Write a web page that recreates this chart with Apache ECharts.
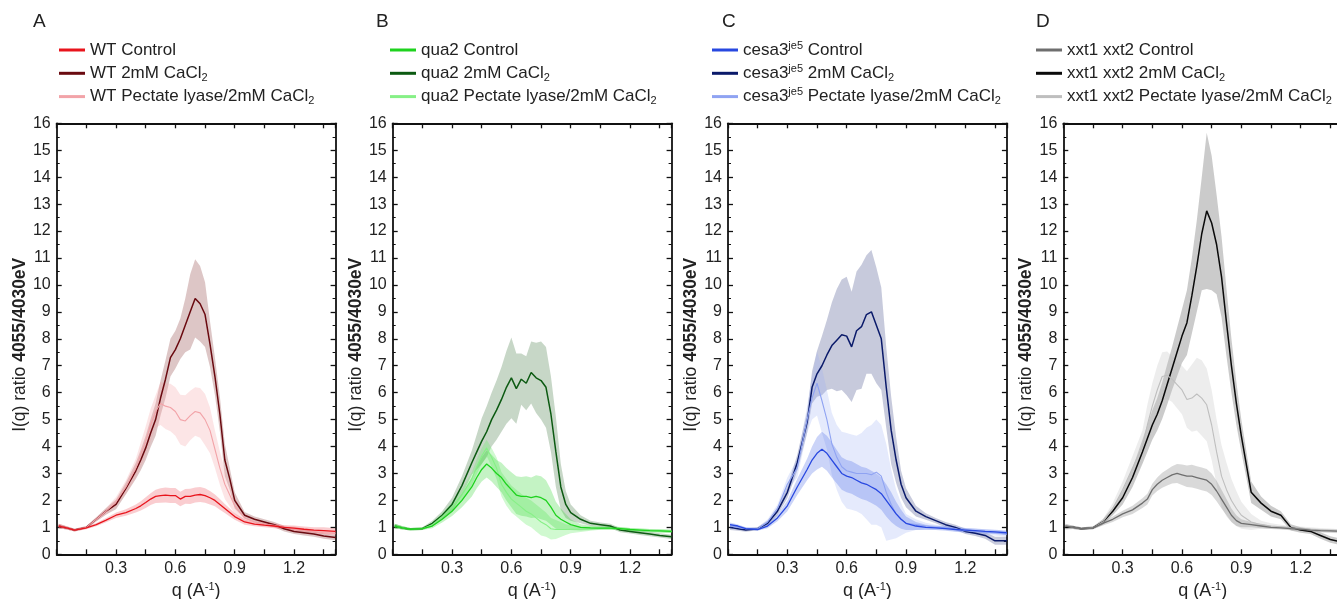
<!DOCTYPE html>
<html><head><meta charset="utf-8">
<script src="https://cdn.jsdelivr.net/npm/echarts@6/dist/echarts.min.js"></script>
<style>html,body{margin:0;padding:0;background:#fff;overflow:hidden}#c{width:1337px;height:599px}</style>
</head><body><div id="c"></div>
<script>
// q grid (A^-1)
const Q = [0.01,0.05,0.09,0.15,0.2,0.25,0.3,0.35,0.4,0.425,0.45,0.475,0.5,0.525,0.55,0.575,0.6,0.625,0.65,0.675,0.7,0.725,0.75,0.775,0.8,0.825,0.85,0.875,0.9,0.95,1.0,1.05,1.1,1.15,1.2,1.25,1.3,1.35,1.41];

// Panel A : WT
const wtControl    = [1.05,0.98,0.9,0.98,1.1,1.27,1.45,1.55,1.7,1.8,1.92,2.05,2.15,2.18,2.2,2.18,2.18,2.05,2.15,2.15,2.2,2.22,2.18,2.1,2.0,1.85,1.7,1.55,1.4,1.2,1.12,1.08,1.05,1.0,0.97,0.93,0.9,0.88,0.85];
const wtControlErr = [0.08,0.06,0.05,0.05,0.06,0.08,0.1,0.12,0.15,0.17,0.2,0.22,0.25,0.27,0.28,0.28,0.28,0.27,0.27,0.28,0.28,0.28,0.27,0.25,0.22,0.2,0.17,0.15,0.12,0.1,0.08,0.08,0.08,0.08,0.1,0.1,0.1,0.12,0.12];
const wtCa         = [1.05,0.98,0.9,1.0,1.3,1.6,1.85,2.45,3.1,3.5,3.95,4.5,5.0,5.8,6.5,7.3,7.6,8.0,8.5,9.0,9.5,9.3,8.9,7.8,6.6,5.2,3.5,2.8,2.0,1.45,1.3,1.2,1.1,0.95,0.85,0.8,0.75,0.68,0.62];
const wtCaErr      = [0.08,0.06,0.05,0.05,0.08,0.12,0.18,0.22,0.3,0.38,0.45,0.52,0.6,0.65,0.7,0.7,0.7,0.75,1.0,1.4,1.45,1.4,1.2,0.85,0.7,0.65,0.6,0.4,0.3,0.12,0.1,0.1,0.1,0.1,0.1,0.1,0.1,0.1,0.1];
const wtPl         = [1.05,0.98,0.9,1.0,1.3,1.6,1.95,2.5,3.2,3.7,4.2,4.8,5.3,5.6,5.5,5.45,5.3,5.0,4.95,5.15,5.3,5.25,5.0,4.6,3.9,3.2,2.6,2.2,1.8,1.35,1.2,1.12,1.08,1.0,0.95,0.9,0.85,0.8,0.78];
const wtPlErr      = [0.08,0.06,0.05,0.05,0.08,0.12,0.18,0.25,0.35,0.45,0.55,0.6,0.6,0.8,0.85,0.88,0.9,0.92,0.95,0.92,0.9,0.92,0.95,0.85,0.7,0.62,0.55,0.42,0.3,0.15,0.1,0.08,0.08,0.08,0.08,0.08,0.08,0.08,0.08];

// Panel B : qua2
const quaControl    = [1.05,0.98,0.93,0.95,1.05,1.3,1.6,2.0,2.5,2.85,3.15,3.35,3.2,3.0,2.85,2.6,2.4,2.2,2.15,2.15,2.1,2.15,2.1,2.0,1.75,1.45,1.3,1.2,1.1,1.0,0.98,0.97,0.97,0.95,0.92,0.9,0.88,0.87,0.85];
const quaControlErr = [0.08,0.06,0.05,0.05,0.08,0.12,0.18,0.25,0.35,0.4,0.45,0.5,0.5,0.5,0.55,0.6,0.65,0.7,0.72,0.75,0.75,0.78,0.8,0.75,0.65,0.5,0.4,0.3,0.2,0.12,0.08,0.06,0.06,0.06,0.06,0.06,0.06,0.06,0.06];
const quaCa         = [1.05,0.98,0.93,0.95,1.15,1.45,1.85,2.55,3.4,3.8,4.2,4.55,5.0,5.35,5.75,6.2,6.55,6.15,6.5,6.35,6.75,6.55,6.45,6.2,5.2,3.8,2.5,1.85,1.55,1.3,1.15,1.1,1.05,0.9,0.85,0.8,0.75,0.7,0.65];
const quaCaErr      = [0.08,0.06,0.05,0.05,0.1,0.15,0.25,0.35,0.45,0.65,0.85,0.95,1.0,1.1,1.2,1.35,1.5,1.3,0.95,1.0,1.15,1.3,1.45,1.5,1.4,1.3,0.85,0.5,0.3,0.15,0.1,0.08,0.08,0.08,0.08,0.08,0.08,0.08,0.08];
const quaPl         = [1.05,0.98,0.93,0.95,1.1,1.4,1.75,2.2,2.8,3.25,3.65,3.95,3.6,3.2,2.6,2.3,2.05,1.9,1.75,1.6,1.5,1.35,1.2,1.1,0.95,0.92,0.92,0.92,0.93,0.93,0.95,0.97,0.97,0.95,0.92,0.9,0.88,0.87,0.85];
const quaPlErr      = [0.08,0.06,0.05,0.05,0.08,0.12,0.18,0.22,0.25,0.28,0.3,0.3,0.35,0.4,0.45,0.5,0.5,0.5,0.5,0.5,0.5,0.5,0.5,0.45,0.4,0.35,0.28,0.2,0.15,0.1,0.08,0.06,0.06,0.06,0.06,0.06,0.06,0.06,0.06];

// Panel C : cesa3je5
const cesControl    = [1.1,1.05,0.95,0.92,1.05,1.35,1.8,2.5,3.15,3.5,3.75,3.9,3.75,3.5,3.25,3.0,2.9,2.85,2.75,2.65,2.6,2.5,2.4,2.25,2.0,1.75,1.5,1.3,1.15,1.05,1.0,0.98,0.95,0.92,0.9,0.88,0.85,0.83,0.8];
const cesControlErr = [0.08,0.06,0.05,0.05,0.08,0.12,0.2,0.3,0.4,0.5,0.6,0.65,0.65,0.65,0.62,0.6,0.6,0.6,0.6,0.6,0.6,0.6,0.6,0.6,0.6,0.55,0.45,0.35,0.25,0.15,0.1,0.08,0.08,0.08,0.08,0.08,0.08,0.08,0.08];
const cesCa         = [1.0,0.95,0.9,0.95,1.15,1.6,2.3,3.4,4.9,6.2,6.7,7.0,7.4,7.75,7.95,8.15,8.1,7.7,8.3,8.45,8.9,9.0,8.5,8.0,6.2,4.6,3.5,2.6,2.1,1.6,1.4,1.25,1.1,1.0,0.85,0.78,0.7,0.5,0.5];
const cesCaErr      = [0.1,0.08,0.06,0.06,0.1,0.15,0.22,0.3,0.4,0.6,0.85,1.1,1.3,1.6,1.9,2.05,2.2,2.05,2.2,2.3,2.2,2.3,2.15,1.9,1.5,1.25,0.85,0.5,0.35,0.2,0.12,0.1,0.1,0.1,0.1,0.1,0.12,0.15,0.15];
const cesPl         = [1.05,1.0,0.95,0.95,1.2,1.7,2.6,3.2,5.0,5.8,6.35,5.7,5.0,4.1,3.6,3.25,3.1,3.05,3.0,3.0,3.0,2.95,3.05,2.9,2.3,1.85,1.5,1.3,1.15,1.1,1.05,1.0,1.0,0.95,0.88,0.85,0.82,0.8,0.75];
const cesPlErr      = [0.08,0.06,0.05,0.05,0.1,0.15,0.25,0.35,0.5,0.8,1.2,1.2,1.1,1.15,1.2,1.3,1.4,1.4,1.4,1.5,1.7,1.85,1.95,1.9,1.8,1.3,0.9,0.6,0.35,0.2,0.12,0.1,0.1,0.1,0.1,0.1,0.1,0.1,0.1];

// Panel D : xxt1 xxt2
const xxtControl    = [1.05,1.0,0.95,0.98,1.15,1.3,1.5,1.65,1.9,2.05,2.4,2.6,2.75,2.85,2.95,3.0,2.95,2.9,2.9,2.85,2.8,2.75,2.6,2.35,2.05,1.75,1.45,1.25,1.15,1.1,1.05,1.0,0.98,0.95,0.93,0.9,0.88,0.87,0.85];
const xxtControlErr = [0.08,0.06,0.05,0.05,0.08,0.1,0.12,0.15,0.18,0.2,0.22,0.25,0.28,0.3,0.32,0.35,0.38,0.4,0.42,0.42,0.42,0.42,0.4,0.38,0.35,0.3,0.25,0.2,0.15,0.1,0.08,0.06,0.06,0.06,0.06,0.06,0.06,0.06,0.06];
const xxtCa         = [1.0,1.0,0.95,0.98,1.2,1.6,2.1,2.85,3.8,4.3,4.8,5.2,5.7,6.3,6.9,7.5,8.1,8.6,9.6,10.7,11.9,12.75,12.3,11.5,10.3,8.6,7.0,5.6,4.4,2.3,1.9,1.6,1.45,1.0,0.9,0.85,0.7,0.55,0.45];
const xxtCaErr      = [0.08,0.06,0.05,0.05,0.1,0.15,0.25,0.35,0.45,0.5,0.55,0.6,0.68,0.75,0.8,0.9,1.0,1.2,1.4,1.7,2.1,2.9,2.5,1.85,1.5,1.25,1.0,0.8,0.6,0.4,0.25,0.2,0.15,0.12,0.1,0.1,0.12,0.12,0.12];
const xxtPl         = [1.05,1.0,0.95,0.98,1.2,1.7,2.4,3.2,4.0,4.8,5.5,6.1,6.6,6.65,6.5,6.3,6.1,5.75,5.8,5.95,5.8,5.55,4.8,3.8,2.9,2.4,2.0,1.7,1.45,1.2,1.1,1.05,1.02,0.98,0.95,0.92,0.9,0.88,0.85];
const xxtPlErr      = [0.08,0.06,0.05,0.05,0.1,0.2,0.3,0.45,0.6,0.75,0.85,0.9,0.9,0.88,0.85,0.88,0.9,1.05,1.25,1.35,1.4,1.35,1.3,1.2,1.15,1.0,0.8,0.65,0.5,0.3,0.15,0.1,0.08,0.08,0.08,0.08,0.08,0.08,0.08];

const panelLetters = ['A','B','C','D'];
const seriesNames = [
  ['WT Control','WT 2mM CaCl2','WT Pectate lyase/2mM CaCl2'],
  ['qua2 Control','qua2 2mM CaCl2','qua2 Pectate lyase/2mM CaCl2'],
  ['cesa3je5 Control','cesa3je5 2mM CaCl2','cesa3je5 Pectate lyase/2mM CaCl2'],
  ['xxt1 xxt2 Control','xxt1 xxt2 2mM CaCl2','xxt1 xxt2 Pectate lyase/2mM CaCl2']
];
const legendRich = {
  'WT Control':'{t|WT Control}',
  'WT 2mM CaCl2':'{t|WT 2mM CaCl}{sub|2}',
  'WT Pectate lyase/2mM CaCl2':'{t|WT Pectate lyase/2mM CaCl}{sub|2}',
  'qua2 Control':'{t|qua2 Control}',
  'qua2 2mM CaCl2':'{t|qua2 2mM CaCl}{sub|2}',
  'qua2 Pectate lyase/2mM CaCl2':'{t|qua2 Pectate lyase/2mM CaCl}{sub|2}',
  'cesa3je5 Control':'{t|cesa3}{sup|je5}{t| Control}',
  'cesa3je5 2mM CaCl2':'{t|cesa3}{sup|je5}{t| 2mM CaCl}{sub|2}',
  'cesa3je5 Pectate lyase/2mM CaCl2':'{t|cesa3}{sup|je5}{t| Pectate lyase/2mM CaCl}{sub|2}',
  'xxt1 xxt2 Control':'{t|xxt1 xxt2 Control}',
  'xxt1 xxt2 2mM CaCl2':'{t|xxt1 xxt2 2mM CaCl}{sub|2}',
  'xxt1 xxt2 Pectate lyase/2mM CaCl2':'{t|xxt1 xxt2 Pectate lyase/2mM CaCl}{sub|2}'
};
const means = [[wtControl,wtCa,wtPl],[quaControl,quaCa,quaPl],[cesControl,cesCa,cesPl],[xxtControl,xxtCa,xxtPl]];
const errs  = [[wtControlErr,wtCaErr,wtPlErr],[quaControlErr,quaCaErr,quaPlErr],[cesControlErr,cesCaErr,cesPlErr],[xxtControlErr,xxtCaErr,xxtPlErr]];

// styles
const lineColors = [
  ['#e8141c','#6a0a10','#f2a3a8'],
  ['#1ed21e','#0c5a12','#86f086'],
  ['#2848e0','#0a1a6a','#8fa3f2'],
  ['#6e6e6e','#0a0a0a','#bebebe']
];
const bandColors = [
  ['rgba(240,90,100,0.30)','rgba(125,35,35,0.26)','rgba(245,160,165,0.28)'],
  ['rgba(60,215,60,0.30)','rgba(40,100,40,0.26)','rgba(110,235,110,0.32)'],
  ['rgba(70,100,230,0.28)','rgba(40,50,120,0.26)','rgba(150,170,245,0.25)'],
  ['rgba(130,130,130,0.30)','rgba(110,110,110,0.36)','rgba(190,190,190,0.28)']
];
const lineWidths = [1.3,1.5,1.1];

const gridLefts = [56.7,392.7,728,1063.3];
const legendLefts = [59,390,712,1036];
const letterLefts = [33,376,722,1036];
const FONT = 'Liberation Sans, Arial, sans-serif';

const grids=[], xAxes=[], yAxes=[], series=[], legends=[], titles=[];
for (let p=0;p<4;p++){
  grids.push({left:gridLefts[p], top:123.3, width:278.9, height:431, containLabel:false, outerBoundsMode:'none'});
  const xCommon = {gridIndex:p, type:'value', min:0, max:1.41, interval:0.15,
    axisLine:{show:true, onZero:false, lineStyle:{color:'#111', width:1.8}},
    axisTick:{show:true, inside:true, length:5, lineStyle:{color:'#111', width:1.3}},
    splitLine:{show:false}};
  xAxes.push(Object.assign({}, xCommon, {position:'bottom',
    axisLabel:{show:true, margin:6, fontSize:16, color:'#222', fontFamily:FONT,
      formatter:v=>{const k=v/0.3; return (v>0.05 && Math.abs(k-Math.round(k))<1e-6)? (Math.round(k)*0.3).toFixed(1):'';}},
    name:'{r|q (A}{s|-1}{r|)}', nameLocation:'middle', nameGap:24,
    nameTextStyle:{fontFamily:FONT, color:'#222', rich:{r:{fontSize:18,lineHeight:20,fontFamily:FONT,color:'#222'}, s:{fontSize:11,lineHeight:11,verticalAlign:'top',fontFamily:FONT,color:'#222'}}}
  }));
  const yCommon = {gridIndex:p, type:'value', min:0, max:16, interval:1,
    axisLine:{show:true, onZero:false, lineStyle:{color:'#111', width:1.8}},
    axisTick:{show:true, inside:true, length:5, lineStyle:{color:'#111', width:1.3}},
    minorTick:{show:true, splitNumber:2, length:3, lineStyle:{color:'#111', width:1}},
    splitLine:{show:false}};
  yAxes.push(Object.assign({}, yCommon, {position:'left',
    axisLabel:{show:true, margin:6, fontSize:16, color:'#222', fontFamily:FONT},
    name:'{r|I(q) ratio }{b|4055/4030eV}', nameLocation:'middle', nameGap:24,
    nameTextStyle:{fontFamily:FONT, color:'#222', padding:[0,12,0,0],
      rich:{r:{fontSize:17.5,fontFamily:FONT,color:'#222'}, b:{fontSize:17.5,fontWeight:'bold',fontFamily:FONT,color:'#222'}}}
  }));
}
for (let p=0;p<4;p++){
  xAxes.push({gridIndex:p, type:'value', min:0, max:1.41, interval:0.15, position:'top',
    axisLine:{show:true, onZero:false, lineStyle:{color:'#111', width:1.8}},
    axisTick:{show:true, inside:true, length:5, lineStyle:{color:'#111', width:1.3}},
    axisLabel:{show:false}, splitLine:{show:false}});
  yAxes.push({gridIndex:p, type:'value', min:0, max:16, interval:1, position:'right',
    axisLine:{show:true, onZero:false, lineStyle:{color:'#111', width:1.8}},
    axisTick:{show:true, inside:true, length:5, lineStyle:{color:'#111', width:1.3}},
    minorTick:{show:true, splitNumber:2, length:3, lineStyle:{color:'#111', width:1}},
    axisLabel:{show:false}, splitLine:{show:false}});
}

function bandSeries(p, m, e, color){
  const data = Q.map((q,i)=>[q, m[i]-e[i], m[i]+e[i]]);
  return {type:'custom', xAxisIndex:p, yAxisIndex:p, z:1, silent:true, clip:true,
    data:data, encode:{x:0, y:[1,2]},
    renderItem:(params, api)=>{
      if (params.dataIndex!==0) return null;
      const up = data.map(r=>api.coord([r[0], r[2]]));
      const lo = data.map(r=>api.coord([r[0], r[1]])).reverse();
      return {type:'polygon', shape:{points:up.concat(lo)}, style:{fill:color}};
    }};
}

// draw order: 2mM band, pectate band, control band, then lines
const bandOrder = [1,2,0];
const lineOrder = [1,2,0];
for (let p=0;p<4;p++){
  for (const s of bandOrder) series.push(bandSeries(p, means[p][s], errs[p][s], bandColors[p][s]));
  for (const s of lineOrder){
    series.push({type:'line', name:seriesNames[p][s], xAxisIndex:p, yAxisIndex:p, z:3,
      showSymbol:false, symbol:'none', smooth:false, silent:true,
      color:lineColors[p][s], lineStyle:{color:lineColors[p][s], width:lineWidths[s]},
      data:Q.map((q,i)=>[q, means[p][s][i]])});
  }
  legends.push({orient:'vertical', left:legendLefts[p], top:40, padding:0, itemGap:3.3,
    itemWidth:26, itemHeight:3, icon:'rect', selectedMode:false,
    data:seriesNames[p], formatter:n=>legendRich[n],
    textStyle:{fontSize:17, color:'#222', fontFamily:FONT, lineHeight:20,
      rich:{t:{fontSize:17,lineHeight:20,color:'#222',fontFamily:FONT},
            sub:{fontSize:11,lineHeight:11,verticalAlign:'bottom',color:'#222',fontFamily:FONT},
            sup:{fontSize:11,lineHeight:11,verticalAlign:'top',color:'#222',fontFamily:FONT}}}});
  titles.push({text:panelLetters[p], left:letterLefts[p], top:12, padding:0,
    textStyle:{fontSize:19, fontWeight:'normal', color:'#222', fontFamily:FONT}});
}

const chart = echarts.init(document.getElementById('c'), null, {renderer:'canvas'});
chart.setOption({backgroundColor:'#fff', animation:false, title:titles, legend:legends,
  grid:grids, xAxis:xAxes, yAxis:yAxes, series:series});
</script></body></html>
